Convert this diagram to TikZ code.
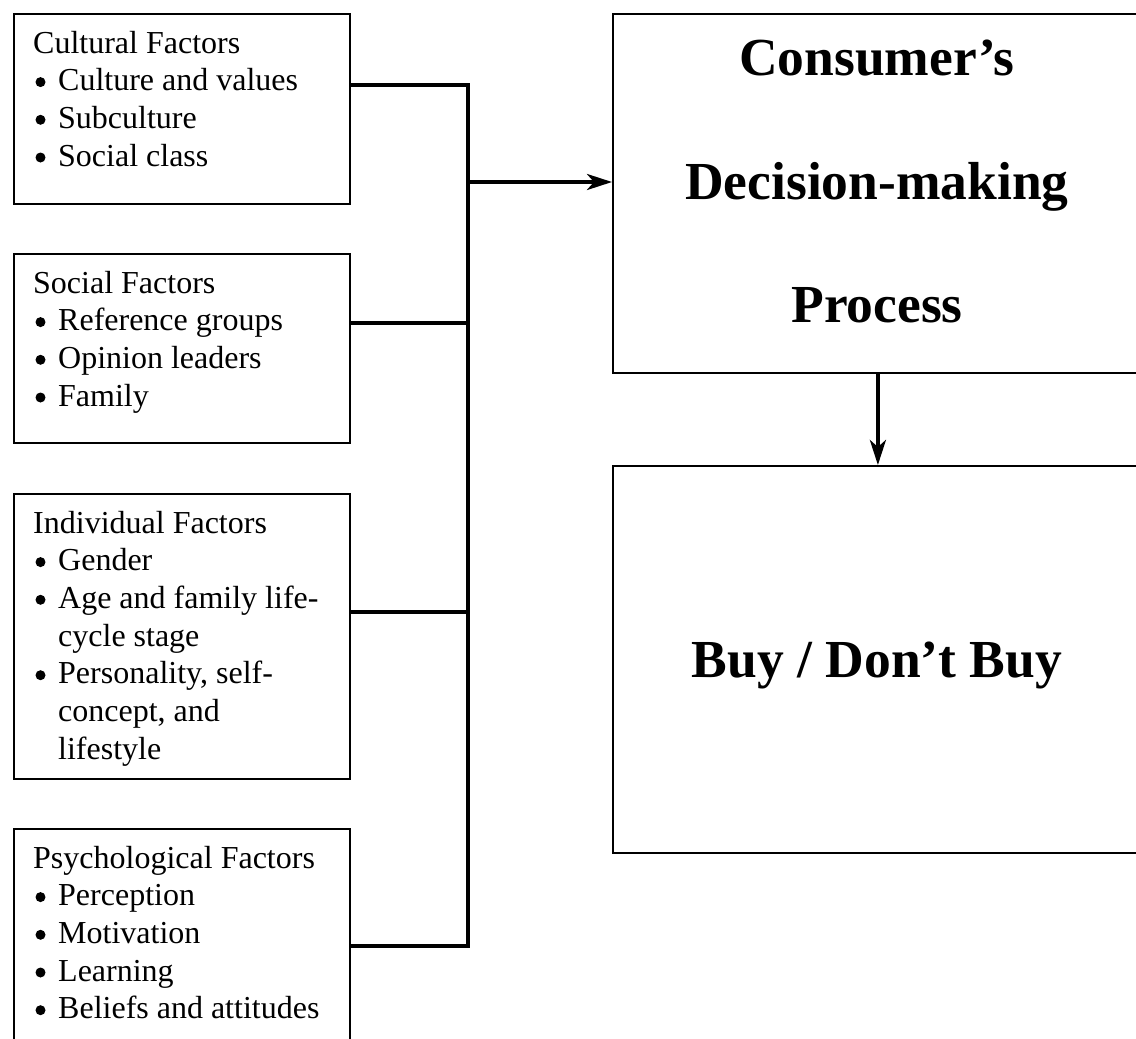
\documentclass[tikz,border=0pt]{standalone}
\usepackage{fontspec}
\setmainfont{Liberation Serif}
\usetikzlibrary{arrows.meta}
\newcommand\ind{\hspace*{25pt}}
\begin{document}
\begin{tikzpicture}[x=1pt,y=-1pt,
  fbox/.style={draw, line width=1.8pt, minimum width=336pt, anchor=north west, inner sep=0pt},
  bbox/.style={draw, line width=1.8pt, minimum width=530pt, anchor=north west, inner sep=0pt},
  ftxt/.style={anchor=base west, inner sep=0pt, font=\fontsize{32}{37.7}\selectfont},
  btxt/.style={anchor=base, inner sep=0pt, font=\fontsize{53.5}{60}\selectfont\bfseries},
  conn/.style={line width=3.8pt, line cap=butt, line join=miter},
  arr/.style={conn, -{Stealth[length=25pt, width=16pt, inset=7pt]}}]
\useasboundingbox (0,0) rectangle (1136,1039);
\clip (0,0) rectangle (1136,1039);
% left boxes
\node[fbox, minimum height=190pt] (c1) at (13,13) {};
\node[fbox, minimum height=189pt] (c2) at (13,253) {};
\node[fbox, minimum height=285pt] (c3) at (13,493) {};
\node[fbox, minimum height=240pt] (c4) at (13,828) {};
\node[ftxt] (t1) at (33,53) {\parbox[t]{320pt}{\raggedright Cultural Factors\\
\ind Culture and values\\ \ind Subculture\\ \ind Social class}};
\node[ftxt] (t2) at (33,293) {\parbox[t]{320pt}{\raggedright Social Factors\\
\ind Reference groups\\ \ind Opinion leaders\\ \ind Family}};
\node[ftxt] (t3) at (33,533) {\parbox[t]{320pt}{\raggedright Individual Factors\\
\ind Gender\\ \ind Age and family life-\\ \ind cycle stage\\ \ind Personality, self-\\ \ind concept, and\\ \ind lifestyle}};
\node[ftxt] (t4) at (33,868) {\parbox[t]{320pt}{\raggedright Psychological Factors\\
\ind Perception\\ \ind Motivation\\ \ind Learning\\ \ind Beliefs and attitudes}};
% bullets
\foreach \b/\ks in {53/{1,2,3}, 293/{1,2,3}, 533/{1,2,4}, 868/{1,2,3,4}}
  \foreach \k in \ks
    \fill (40.5,{\b+37.7*\k-8.6}) circle (5pt);
% right boxes
\node[bbox, minimum height=359pt] (dm) at (612,13) {};
\node[bbox, minimum height=387pt] (bd) at (612,465) {};
\node[btxt] (d1) at (877,75) {Consumer’s};
\node[btxt] (d2) at (877,199) {Decision-making};
\node[btxt] (d3) at (877,322) {Process};
\node[btxt] (b1) at (877,677) {Buy / Don’t Buy};
% bus
\coordinate (bt) at (468,85);
\coordinate (bb) at (468,946);
\coordinate (ar) at (468,182);
\coordinate (j2) at ([yshift=-70pt]c2.north east);
\coordinate (j3) at ([yshift=-119pt]c3.north east);
\draw[conn] ([yshift=-72pt]c1.north east) -- (bt) -- (bb) -- ([yshift=-118pt]c4.north east);
\draw[conn] (j2) -- (j2 -| bt);
\draw[conn] (j3) -- (j3 -| bt);
\draw[arr] (ar) -- (ar -| dm.west);
\draw[arr] (dm.south) -- (bd.north);
\end{tikzpicture}
\end{document}
